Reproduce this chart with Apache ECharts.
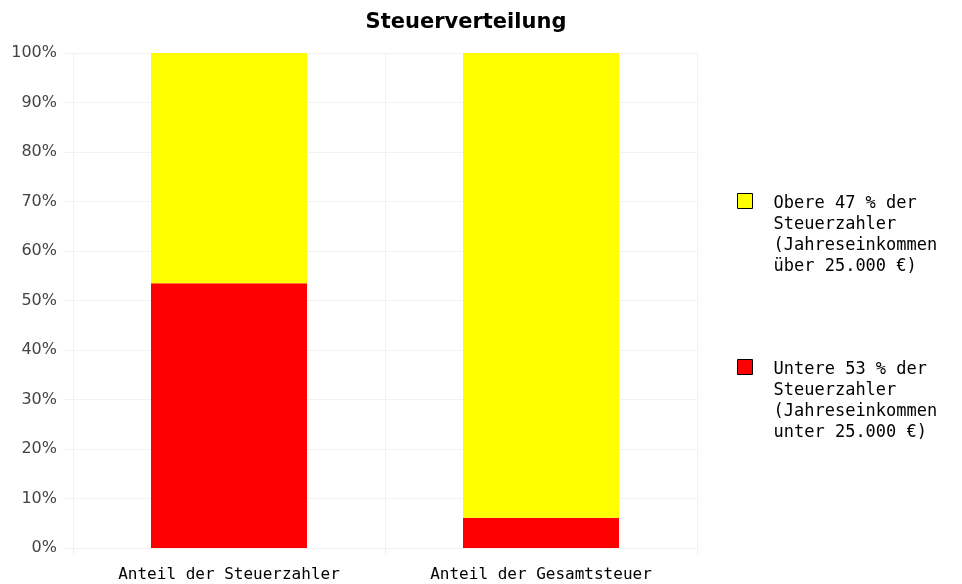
<!DOCTYPE html>
<html>
<head>
<meta charset="utf-8">
<script src="https://cdn.jsdelivr.net/npm/echarts@6/dist/echarts.min.js"></script>
<style>
	html, body { margin: 0; padding: 0; background: #fff; }
	#chart { width: 962px; height: 584px; }
</style>
</head>
<body>
<div id="chart"></div>
<script>
	var categories = ['Anteil der Steuerzahler', 'Anteil der Gesamtsteuer'];
	var untereName = 'Untere 53 % der\nSteuerzahler\n(Jahreseinkommen\nunter 25.000 €)';
	var obereName = 'Obere 47 % der\nSteuerzahler\n(Jahreseinkommen\nüber 25.000 €)';
	var untereValues = [53.5, 6.1];
	var obereValues = [46.5, 93.9];

	var chart = echarts.init(document.getElementById('chart'));

	//图例方块放在第一行旁边：路径里多放两个空点把包围盒撑大
	var legendIcon = 'path://M0 0H15V15H0Z M0 84 M31 0';

	var option = {
		animation: false,
		title: {
			text: 'Steuerverteilung',
			left: 461,
			textAlign: 'center',
			top: 7,
			textStyle: {
				fontFamily: 'DejaVu Sans',
				fontSize: 21,
				fontWeight: 'bold',
				color: '#000'
			}
		},
		legend: {
			orient: 'vertical',
			left: 732,
			top: 188,
			itemGap: 81,
			itemWidth: 31,
			itemHeight: 84,
			icon: legendIcon,
			symbolKeepAspect: false,
			data: [obereName, untereName],
			itemStyle: {
				borderColor: '#000',
				borderWidth: 1
			},
			textStyle: {
				fontFamily: 'DejaVu Sans Mono',
				fontSize: 17,
				lineHeight: 21,
				color: '#000'
			}
		},
		grid: {
			left: 73,
			right: 265,
			top: 53,
			bottom: 36
		},
		xAxis: {
			type: 'category',
			data: categories,
			axisLine: { show: false },
			axisTick: { show: true, length: 6, lineStyle: { color: '#eeeeee' } },
			splitLine: { show: true, lineStyle: { color: '#f2f2f2' } },
			axisLabel: {
				fontFamily: 'DejaVu Sans Mono',
				fontSize: 16,
				color: '#000',
				margin: 19
			}
		},
		yAxis: {
			type: 'value',
			min: 0,
			max: 100,
			interval: 10,
			axisLine: { show: false },
			axisTick: { show: true, length: 10, lineStyle: { color: '#f2f2f2' } },
			splitLine: { show: true, lineStyle: { color: '#f2f2f2' } },
			axisLabel: {
				formatter: '{value}%',
				fontFamily: 'DejaVu Sans',
				fontSize: 16,
				color: '#444',
				margin: 16
			}
		},
		series: [{
			name: untereName,
			type: 'bar',
			stack: 'anteil',
			barWidth: 156,
			color: '#ff0000',
			data: untereValues
		}, {
			name: obereName,
			type: 'bar',
			stack: 'anteil',
			barWidth: 156,
			color: '#ffff00',
			data: obereValues
		}]
	};
	chart.setOption(option);
</script>
</body>
</html>
